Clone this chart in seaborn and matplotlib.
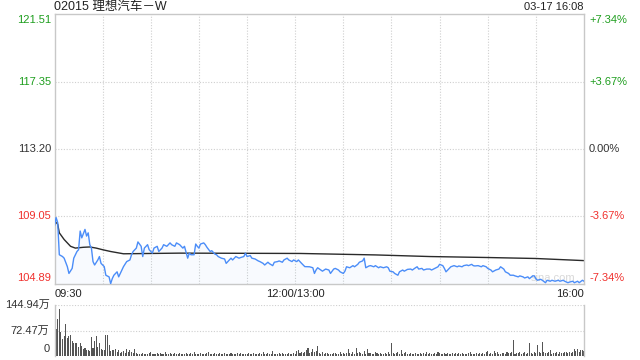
import matplotlib
matplotlib.use("Agg")
import matplotlib.pyplot as plt
import matplotlib.transforms as mtransforms
import pandas as pd
import seaborn as sns

# ---------------- data ----------------
title = "02015 理想汽车－W"
stamp = "03-17 16:08"
time_labels = ["09:30", "12:00/13:00", "16:00"]
time_label_minutes = [0, 150, 330]
price_ticks = [121.51, 117.35, 113.20, 109.05, 104.89]
pct_labels = ["+7.34%", "+3.67%", "0.00%", "-3.67%", "-7.34%"]
vol_ticks = [144.94, 72.47, 0]
vol_tick_labels = ["144.94万", "72.47万", "0"]

# price line (trading minute since 09:30, lunch break removed)
price_min = [0, 1, 2, 3, 5, 6, 8, 9, 11, 12, 14, 15, 16, 17, 19, 20, 21, 22, 23, 24,
             25, 27, 28, 29, 31, 32, 34, 35, 36, 37, 39, 40, 42, 43, 45, 47, 48, 49, 51, 52,
             54, 55, 56, 58, 59, 61, 62, 64, 65, 67, 68, 70, 72, 73, 75, 76, 78, 80, 81, 83,
             84, 85, 87, 88, 89, 90, 91, 93, 94, 95, 97, 98, 100, 101, 102, 104, 106, 107, 109, 110,
             111, 113, 115, 116, 118, 119, 120, 122, 123, 125, 127, 128, 130, 131, 133, 134, 136, 137, 139, 140,
             142, 143, 145, 146, 148, 149, 151, 152, 154, 156, 158, 159, 161, 162, 163, 164, 166, 167, 169, 171,
             172, 174, 175, 177, 178, 180, 181, 182, 184, 186, 187, 189, 190, 192, 193, 194, 196, 197, 199, 200,
             202, 203, 205, 207, 208, 209, 211, 212, 214, 215, 217, 218, 220, 222, 223, 225, 226, 227, 229, 230,
             232, 234, 235, 237, 239, 240, 242, 243, 244, 246, 247, 249, 251, 252, 254, 255, 257, 258, 260, 261,
             262, 264, 266, 267, 269, 270, 272, 273, 275, 277, 278, 280, 281, 283, 284, 286, 287, 289, 290, 292,
             293, 295, 296, 298, 299, 300, 301, 303, 304, 306, 307, 309, 310, 312, 314, 315, 317, 318, 320, 321,
             323, 324, 326, 327, 329, 330]
price_val = [108.46, 108.98, 108.67, 106.69, 106.58, 106.48, 105.96, 105.54, 105.85, 106.48,
             106.89, 107.00, 108.15, 107.73, 108.25, 107.84, 108.04, 107.31, 107.10, 106.27,
             106.06, 106.37, 106.58, 106.16, 105.96, 105.43, 105.33, 104.91, 105.22, 105.43,
             105.64, 105.33, 105.75, 105.96, 106.27, 106.37, 106.69, 106.89, 107.10, 107.48,
             107.21, 106.58, 107.10, 107.31, 107.00, 106.79, 107.10, 107.21, 106.89, 107.10,
             107.31, 107.21, 107.42, 107.31, 107.21, 107.42, 107.31, 107.10, 107.21, 106.48,
             106.79, 106.69, 106.69, 107.35, 107.21, 107.10, 107.35, 107.42, 107.31, 107.15,
             106.89, 106.94, 106.73, 106.69, 106.58, 106.48, 106.43, 106.16, 106.37, 106.48,
             106.37, 106.58, 106.48, 106.52, 106.58, 106.79, 106.58, 106.64, 106.48, 106.43,
             106.31, 106.27, 106.16, 106.06, 106.23, 106.14, 106.02, 106.23, 106.27, 106.31,
             106.23, 106.37, 106.48, 106.37, 106.27, 106.37, 106.27, 106.37, 106.16, 105.96,
             105.95, 105.95, 105.89, 105.54, 105.75, 105.89, 105.75, 105.68, 105.81, 105.75,
             105.54, 105.81, 105.85, 105.75, 105.64, 105.54, 105.68, 105.95, 105.89, 106.02,
             105.95, 106.10, 106.23, 106.31, 106.48, 105.89, 106.00, 106.02, 105.95, 106.02,
             105.89, 105.95, 105.89, 105.95, 105.89, 105.68, 105.64, 105.54, 105.43, 105.64,
             105.75, 105.68, 105.79, 105.81, 105.75, 105.89, 105.95, 105.81, 105.85, 105.75,
             105.81, 105.81, 105.75, 105.85, 105.95, 106.10, 106.02, 105.85, 105.64, 105.85,
             105.95, 106.02, 105.95, 106.00, 105.95, 106.02, 106.06, 106.02, 106.10, 106.02,
             106.00, 106.02, 105.95, 106.02, 105.95, 105.85, 105.75, 105.64, 105.75, 105.81,
             105.95, 105.81, 105.64, 105.54, 105.43, 105.43, 105.39, 105.33, 105.39, 105.33,
             105.26, 105.33, 105.22, 105.39, 105.39, 105.22, 105.12, 105.18, 105.12, 104.97,
             105.12, 105.06, 105.12, 105.06, 105.12, 105.06, 105.12, 105.06, 104.97, 105.01,
             105.06, 104.97, 105.06, 104.97, 105.12, 105.06]

# average price line
avg_min = [0, 2, 3, 6, 10, 13, 18, 22, 26, 30, 35, 43, 60, 78, 153, 200, 234, 270, 300, 330]
avg_val = [108.78, 108.57, 108.04, 107.63, 107.21, 107.10, 107.15, 107.17, 107.10, 107.00,
           106.89, 106.75, 106.77, 106.79, 106.77, 106.68, 106.58, 106.52, 106.46, 106.33]

# volume per minute, in 万 shares (minute 0 .. 330)
volume = [79, 76, 105, 134, 67, 47, 57, 92, 50, 57, 60, 43, 36, 38, 36, 26, 36, 28, 21, 24,
          18, 16, 14, 53, 24, 43, 57, 26, 36, 21, 18, 18, 60, 60, 31, 14, 18, 16, 21, 12,
          18, 9, 12, 14, 9, 21, 12, 18, 12, 9, 21,
          8, 6, 7, 5, 9, 6, 7, 5, 8, 10, 6, 5, 7, 9, 6, 8, 5, 7, 12, 6,
          5, 8, 6, 7, 9, 5, 6, 8, 7, 5, 6, 9, 7, 5, 8, 6, 10, 7, 5, 6,
          8, 5, 7, 6, 9, 11, 6, 5, 7, 8,
          6, 5, 8, 7, 6, 9, 5, 7, 6, 8, 5, 6, 7, 9, 5, 8, 6, 7, 5, 6,
          8, 7, 5, 9, 6, 7, 5, 8, 6, 12, 7, 5, 8, 6, 7, 15, 6, 5, 7, 9,
          6, 8, 5, 7, 6, 9, 7, 5, 8, 6,
          14, 18, 9, 12, 8, 10, 16, 22, 9, 12, 20, 11, 14, 29, 8, 7, 10, 6, 9, 8,
          5, 7, 6, 9, 8, 5, 7, 10, 6, 8, 7, 9, 19, 8, 6, 10, 7, 22, 9, 12,
          8, 6, 15, 7, 19, 9, 8, 6, 7, 10,
          8, 6, 9, 7, 5, 8, 6, 10, 7, 36, 8, 6, 9, 12, 7, 16, 6, 8, 10, 7,
          6, 9, 7, 5, 8, 6, 7, 9, 6, 8, 7, 10, 6, 8, 7, 5, 9, 6, 10, 8,
          7, 6, 9, 5, 8, 7, 6, 9, 7, 8,
          6, 8, 7, 9, 5, 7, 6, 8, 10, 6, 7, 5, 8, 6, 9, 7, 8, 6, 10, 14,
          7, 9, 6, 14, 8, 10, 7, 6, 9, 8, 7, 10, 8, 9, 12, 45, 7, 9, 8, 11,
          6, 8, 10, 7, 9, 36, 8, 6, 12, 9,
          32, 10, 8, 39, 12, 9, 8, 10, 16, 7, 9, 8, 12, 7, 10, 9, 8, 11, 10, 9,
          12, 8, 10, 19, 14, 20, 12, 16, 18, 14]

# ---------------- style ----------------
sns.set_theme(style="white")
plt.rcParams["font.family"] = ["Liberation Sans", "Noto Sans CJK SC", "DejaVu Sans"]

GREEN = "#1e9e1e"
RED = "#f0302d"
DARK = "#333333"
GRID = "#cfcfcf"
BORDER = "#c8c8c8"
BLUE = "#4b8df8"

W, H = 640, 360
fig = plt.figure(figsize=(6.4, 3.6), dpi=100)
x0, x1 = 54.5, 584
ax = fig.add_axes([x0 / W, 1 - 284 / H, (x1 - x0) / W, 270 / H])
axv = fig.add_axes([x0 / W, 1 - 356 / H, (x1 - x0) / W, 51 / H])

# ---------------- price panel ----------------
ymin, ymax = price_ticks[-1], price_ticks[0]
ax.fill_between(price_min, price_val, ymin, color=BLUE, alpha=0.035, lw=0, zorder=1)
sns.lineplot(x=price_min, y=price_val, ax=ax, color=BLUE, lw=1.0, zorder=3)
sns.lineplot(x=avg_min, y=avg_val, ax=ax, color="#2a2a2a", lw=1.0, zorder=2)

ax.set_xlim(0, 330)
ax.set_ylim(ymin, ymax)
ax.set_xticks([])
ax.set_yticks([])
ax.set_xlabel("")
ax.set_ylabel("")
for m in range(30, 330, 30):
    ax.axvline(m, color=GRID, lw=0.8, ls=(0, (1, 1.5)), zorder=0)
for p in price_ticks[1:-1]:
    ax.axhline(p, color=GRID, lw=0.8, ls=(0, (1, 1.5)), zorder=0)
for s in ax.spines.values():
    s.set_color(BORDER)
    s.set_linewidth(1.0)

label_colors = [GREEN, GREEN, DARK, RED, RED]
trans = mtransforms.blended_transform_factory(ax.transAxes, ax.transData)
for i, (p, pct, c) in enumerate(zip(price_ticks, pct_labels, label_colors)):
    va = "center"
    dy = 0
    if i == 0:
        va, dy = "top", -1
    elif i == len(price_ticks) - 1:
        va, dy = "bottom", 1
    ax.annotate(f"{p:.2f}", xy=(0, p), xycoords=trans, xytext=(-3.5, dy),
                textcoords="offset pixels", ha="right", va=va, fontsize=8, color=c)
    ax.annotate(pct, xy=(1, p), xycoords=trans, xytext=(5, dy),
                textcoords="offset pixels", ha="left", va=va, fontsize=8, color=c)

ax.text(310.5, 105.25, "sina.com", fontsize=8, color="#d8d8d8", ha="center",
        va="center", zorder=2)

# ---------------- volume panel ----------------
vol_df = pd.DataFrame({"minute": list(range(len(volume))), "vol": volume})
sns.barplot(data=vol_df, x="minute", y="vol", ax=axv, native_scale=True,
            color="#555555", saturation=1, width=0.65, linewidth=0, errorbar=None)
axv.set_xlim(0, 330)
axv.set_ylim(0, vol_ticks[0])
axv.set_xticks([])
axv.set_yticks([])
axv.set_xlabel("")
axv.set_ylabel("")
for v in vol_ticks[:2]:
    axv.axhline(v, color=GRID, lw=0.8, ls=(0, (1, 1.5)), zorder=0)
axv.spines["top"].set_visible(False)
axv.spines["bottom"].set_visible(False)
for side in ("left", "right"):
    axv.spines[side].set_color(BORDER)
    axv.spines[side].set_linewidth(1.0)

vtrans = mtransforms.blended_transform_factory(axv.transAxes, axv.transData)
for v, lab in zip(vol_ticks, vol_tick_labels):
    va, dy = ("bottom", 2) if v == 0 else ("center", 0)
    axv.annotate(lab, xy=(0, v), xycoords=vtrans, xytext=(-5, dy),
                 textcoords="offset pixels", ha="right", va=va,
                 fontsize=8, color=DARK)

# ---------------- text ----------------
fig.text(x0 / W, 1 - 7 / H, title, ha="left", va="center", fontsize=9, color="#222222")
fig.text(x1 / W, 1 - 7 / H, stamp, ha="right", va="center", fontsize=8, color="#222222")
for lab, m in zip(time_labels, time_label_minutes):
    xpix = x0 + (x1 - x0) * m / 330
    ha = "left" if m == 0 else ("right" if m == 330 else "center")
    fig.text(xpix / W, 1 - 294 / H, lab, ha=ha, va="center", fontsize=8, color="#222222")

fig.savefig("out.png", dpi=100)
